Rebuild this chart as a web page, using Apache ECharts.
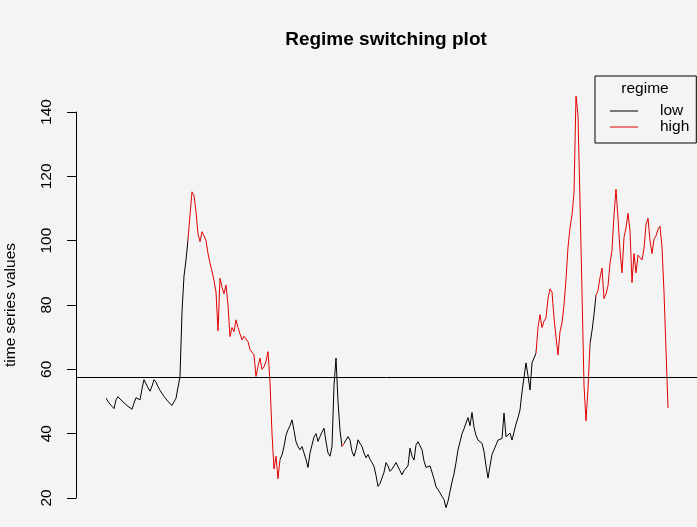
<!DOCTYPE html>
<html>
<head>
<meta charset="utf-8">
<script src="https://cdn.jsdelivr.net/npm/echarts@6/dist/echarts.min.js"></script>
<style>
  html, body { margin: 0; padding: 0; background: #f5f4f4; }
  #main { width: 697px; height: 527px; }
</style>
</head>
<body>
<div id="main"></div>
<script>
// series values (one value per time step)
const values = [
  51.1, 50.0, 49.2, 48.5, 47.8, 50.5, 51.5, 50.8, 50.2, 49.6,
  49.0, 48.5, 48.0, 47.6, 49.5, 51.2, 50.8, 50.5, 54.0, 56.8,
  55.5, 54.3, 53.2, 54.8, 56.8, 56.0, 54.6, 53.5, 52.5, 51.6,
  50.8, 50.0, 49.4, 48.8, 49.0, 51.0, 50.5, 57.8, 78.0, 89.0,
  94.0, 100.3, 108.0, 115.2, 114.0, 109.0, 102.0, 99.7, 102.8, 101.5,
  100.0, 96.0, 93.0, 90.5, 87.5, 84.0, 72.0, 88.3, 85.5, 83.5,
  86.2, 80.0, 70.2, 73.0, 71.7, 75.4, 73.0, 71.0, 69.2, 70.3,
  70.5, 68.6, 66.1, 65.5, 64.5, 57.8, 60.9, 63.5, 60.0, 60.8,
  62.5, 65.5, 56.0, 40.0, 29.0, 33.0, 26.0, 32.0, 33.4, 36.0,
  39.5, 41.2, 42.5, 44.3, 41.0, 37.5, 36.0, 35.0, 36.0, 34.0,
  32.0, 29.5, 34.0, 36.5, 39.0, 40.0, 37.6, 39.1, 40.5, 41.7,
  37.5, 34.0, 33.0, 36.0, 55.0, 63.5, 50.0, 41.0, 36.0, 37.0,
  37.5, 39.1, 38.0, 34.5, 33.0, 35.0, 38.1, 37.0, 36.0, 34.0,
  32.5, 33.5, 32.0, 31.0, 29.8, 27.0, 23.6, 24.5, 24.7, 28.0,
  31.0, 30.0, 28.3, 29.0, 29.5, 31.0, 31.1, 28.5, 27.2, 28.5,
  29.0, 30.0, 35.5, 33.0, 31.8, 36.5, 37.5, 37.2, 35.0, 31.5,
  29.5, 29.0, 30.0, 30.5, 26.0, 23.5, 22.6, 21.6, 20.5, 19.5,
  17.0, 19.0, 22.0, 25.0, 27.5, 31.0, 35.0, 37.5, 40.0, 41.5,
  43.3, 45.0, 42.5, 46.6, 42.0, 39.5, 38.0, 37.5, 37.0, 34.5,
  30.0, 26.2, 30.0, 33.5, 35.0, 36.5, 38.0, 38.0, 38.5, 46.4,
  39.0, 38.5, 40.2, 38.0, 38.0, 43.0, 45.0, 47.4, 53.0, 57.5,
  62.0, 58.0, 53.6, 62.0, 61.5, 65.0, 73.0, 77.0, 73.0, 75.0,
  76.0, 82.0, 85.0, 84.0, 76.0, 70.0, 64.5, 71.7, 74.5, 80.0,
  88.0, 98.0, 104.0, 108.0, 115.0, 145.0, 139.0, 112.0, 84.0, 55.0,
  44.0, 54.0, 68.0, 72.0, 77.0, 83.0, 84.5, 88.5, 91.5, 82.0,
  83.4, 86.0, 93.0, 97.0, 108.0, 116.0, 107.0, 97.0, 90.0, 101.0,
  104.0, 108.5, 103.0, 87.0, 96.0, 90.0, 95.5, 95.0, 94.0, 97.5,
  105.0, 107.0, 100.0, 96.0, 100.5, 101.5, 103.5, 104.5, 98.0, 84.0,
  66.0, 48.0
];

// time steps where the regime is "high" ([from, to) in step index)
const highSpans = [[42, 88], [119, 120], [216, 243], [246, 283]];

// level of the horizontal reference line
const threshold = 57.6;

// y tick labels
const yTicks = [20, 40, 60, 80, 100, 120, 140];

const legendNames = ["low", "high"];
const regimeColors = { low: "#000000", high: "#e00000" };

const points = values.map((v, i) => [i + 1, v]);

// build visualMap pieces: low everywhere except the high spans
const pieces = [];
let from = 1;
highSpans.forEach(([a, b]) => {
  if (a > from) pieces.push({ gte: from, lt: a, color: regimeColors.low });
  pieces.push({ gte: a, lt: b, color: regimeColors.high });
  from = b;
});
if (from <= values.length) pieces.push({ gte: from, lte: values.length + 1, color: regimeColors.low });

const font = "Liberation Sans";
const fs = 15.5;

let myChart = echarts.init(document.getElementById("main"));
let options = {
  backgroundColor: "#f5f4f4",
  animation: false,
  textStyle: { fontFamily: font },
  title: [
    {
      text: "Regime switching plot",
      left: 386,
      top: 30,
      padding: 0,
      textAlign: "center",
      textStyle: { fontFamily: font, fontSize: 19, fontWeight: "bold", color: "#000" }
    },
    {
      text: "regime",
      left: 645,
      top: 81,
      padding: 0,
      textAlign: "center",
      textStyle: { fontFamily: font, fontSize: fs, fontWeight: "normal", color: "#000" }
    }
  ],
  legend: {
    data: legendNames,
    orient: "vertical",
    left: 595,
    top: 76,
    padding: [27, 7, 8, 15],
    icon: "rect",
    itemWidth: 28,
    itemHeight: 1,
    itemGap: 0,
    borderColor: "#000",
    borderWidth: 1,
    borderRadius: 0,
    selectedMode: false,
    textStyle: { fontFamily: font, fontSize: fs, color: "#000", padding: [0, 0, 0, 17] }
  },
  visualMap: {
    show: false,
    type: "piecewise",
    dimension: 0,
    seriesIndex: 0,
    pieces: pieces
  },
  grid: [
    // plot region
    { left: 76, right: 0, top: 76, bottom: 1 },
    // grid holding only the visible y axis (20..140)
    { left: 76, width: 10, top: 112, bottom: 29 }
  ],
  xAxis: [
    { type: "value", gridIndex: 0, min: -14, max: 296.5, show: false },
    { type: "value", gridIndex: 1, show: false }
  ],
  yAxis: [
    { type: "value", gridIndex: 0, min: 11.3, max: 151.2, show: false },
    {
      type: "value",
      gridIndex: 1,
      min: yTicks[0],
      max: yTicks[yTicks.length - 1],
      interval: 20,
      name: "time series values",
      nameLocation: "middle",
      nameGap: 57,
      nameTextStyle: { fontFamily: font, fontSize: fs, color: "#000" },
      axisLine: { show: true, lineStyle: { color: "#000", width: 1 } },
      axisTick: { show: true, length: 9, lineStyle: { color: "#000" } },
      axisLabel: { rotate: 90, margin: 21, fontFamily: font, fontSize: fs, color: "#000" },
      splitLine: { show: false }
    }
  ],
  series: [
    {
      name: "value",
      type: "line",
      xAxisIndex: 0,
      yAxisIndex: 0,
      data: points,
      symbol: "none",
      lineStyle: { width: 1 },
      markLine: {
        silent: true,
        symbol: "none",
        label: { show: false },
        lineStyle: { color: "#000", width: 1, type: "solid" },
        data: [{ yAxis: threshold }]
      }
    },
    {
      name: "low",
      type: "line",
      symbol: "none",
      data: [],
      lineStyle: { color: regimeColors.low, width: 1 },
      itemStyle: { color: regimeColors.low }
    },
    {
      name: "high",
      type: "line",
      symbol: "none",
      data: [],
      lineStyle: { color: regimeColors.high, width: 1 },
      itemStyle: { color: regimeColors.high }
    }
  ]
};
myChart.setOption(options);
window.addEventListener("resize", () => {
  myChart.resize();
});
</script>
</body>
</html>
